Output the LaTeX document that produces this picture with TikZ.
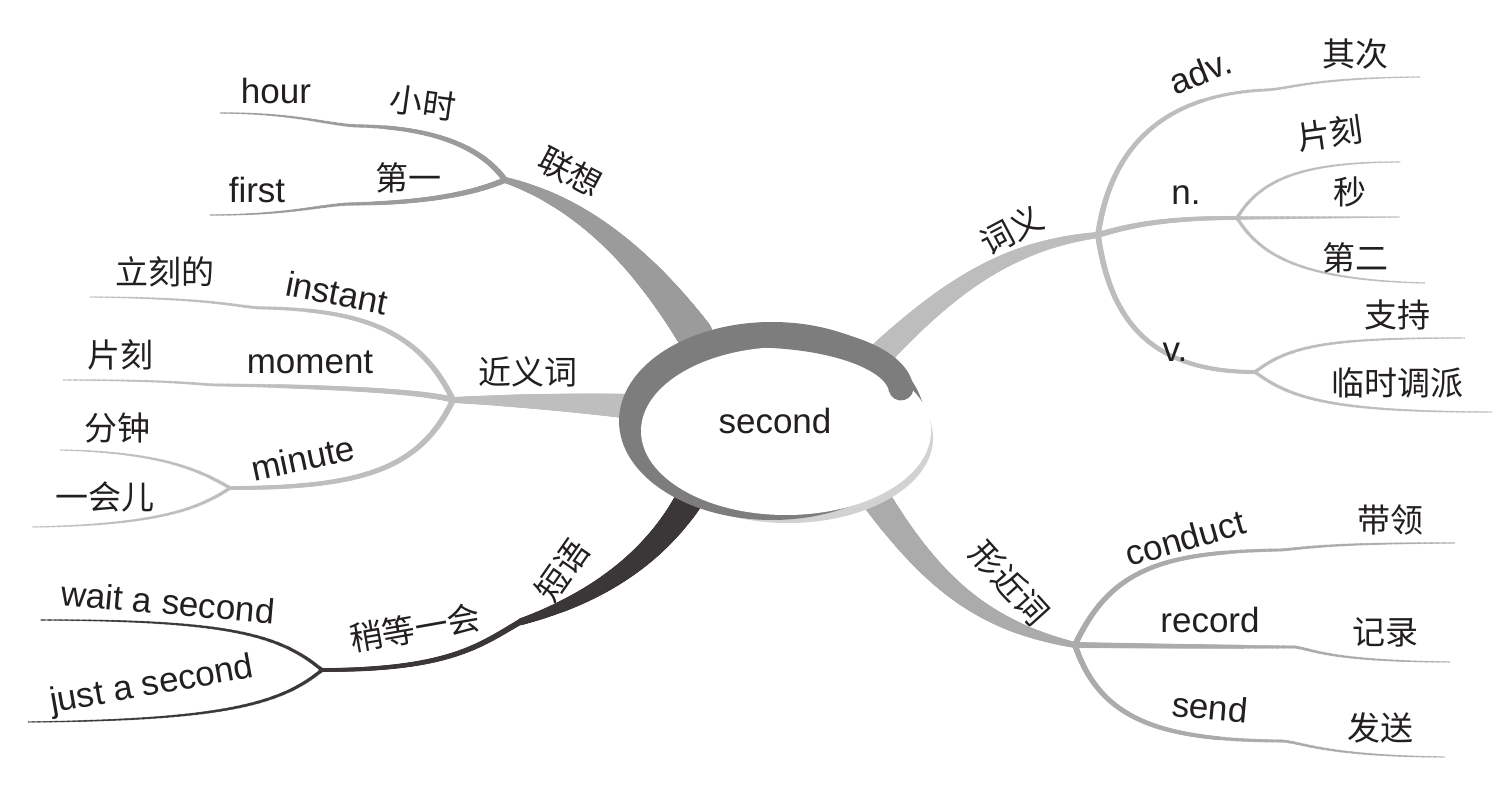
\documentclass[tikz,border=0pt]{standalone}
\usepackage{fontspec}
\setmainfont{Liberation Sans}
\newfontfamily\cjk{Noto Sans CJK SC}
\usetikzlibrary{decorations.markings}

\definecolor{ink}{HTML}{231F20}
\definecolor{ringgray}{HTML}{7D7D7D}
\definecolor{assocgray}{HTML}{9B9B9B}
\definecolor{syngray}{HTML}{BEBEBE}
\definecolor{phrasegray}{HTML}{3B3738}
\definecolor{meangray}{HTML}{BDBDBD}
\definecolor{lookgray}{HTML}{ABABAB}

\tikzset{
  taper/.style n args={3}{postaction={decorate,decoration={markings,
    mark=between positions 0 and 1 step 1.2pt with {%
      \pgfmathsetmacro{\tw}{#2+(#3-#2)*\pgfkeysvalueof{/pgf/decoration/mark info/distance from start}/\pgfdecoratedpathlength}%
      \fill[#1] (0,0) circle[radius=\tw/2];}}}},
  en/.style={font=\fontsize{35}{40}\selectfont,text=ink,inner sep=0pt},
  zh/.style={font=\cjk\fontsize{33}{40}\selectfont,text=ink,inner sep=0pt},
}

\begin{document}
\begin{tikzpicture}[x=1pt,y=-1pt]
	\useasboundingbox (0,0) rectangle (1492,791);

	% Roots under the ellipse
	\coordinate (r-lx) at (695,335);
	\coordinate (r-jy) at (640,407);
	\coordinate (r-dy) at (700,480);
	\coordinate (r-cy) at (875,360);
	\coordinate (r-xj) at (870,490);

	% Junctions
	\coordinate (lx) at (505,180);
	\coordinate (jy) at (453,400);
	\coordinate (jy-min) at (230,488);
	\coordinate (dy) at (520,622);
	\coordinate (dy-sd) at (322,670);
	\coordinate (cy) at (1098,235);
	\coordinate (cy-n) at (1237,218);
	\coordinate (cy-v) at (1255,372);
	\coordinate (xj) at (1075,645);

	% Free ends
	\coordinate (e-hour) at (220,113);
	\coordinate (e-first) at (210,215);
	\coordinate (e-instant) at (90,297);
	\coordinate (e-moment) at (63,380);
	\coordinate (e-fz) at (60,450);
	\coordinate (e-yhr) at (32,527);
	\coordinate (e-wait) at (40,620);
	\coordinate (e-just) at (28,722);
	\coordinate (e-adv) at (1420,77);
	\coordinate (e-pk) at (1400,162);
	\coordinate (e-miao) at (1400,217);
	\coordinate (e-de) at (1425,283);
	\coordinate (e-zc) at (1465,338);
	\coordinate (e-lsdp) at (1492,412);
	\coordinate (e-conduct) at (1455,543);
	\coordinate (e-record) at (1450,662);
	\coordinate (e-send) at (1445,757);

	% Lianxiang
	\path[taper={assocgray}{36}{6}] (r-lx) .. controls (650,270) and (590,205) .. (lx);
	\path[taper={assocgray}{6}{1.5}] (lx) .. controls (480,145) and (430,128) .. (362,126) .. controls (330,126) and (300,113) .. (e-hour);
	\path[taper={assocgray}{6}{1.5}] (lx) .. controls (470,195) and (420,203) .. (350,204) .. controls (320,205) and (290,215) .. (e-first);

	% Jinyici
	\path[taper={syngray}{26}{6}] (r-jy) .. controls (570,402) and (500,400) .. (jy);
	\path[taper={syngray}{6}{1.5}] (jy) .. controls (420,330) and (360,310) .. (265,308) .. controls (240,308) and (220,298) .. (e-instant);
	\path[taper={syngray}{6}{1.5}] (jy) .. controls (420,390) and (300,386) .. (220,385) .. controls (200,385) and (180,380) .. (e-moment);
	\path[taper={syngray}{6}{4}] (jy) .. controls (420,470) and (360,488) .. (jy-min);
	\path[taper={syngray}{4}{1.5}] (jy-min) .. controls (200,470) and (160,452) .. (e-fz);
	\path[taper={syngray}{4}{1.5}] (jy-min) .. controls (200,508) and (160,525) .. (e-yhr);

	% Duanyu
	\path[taper={phrasegray}{30}{7}] (r-dy) .. controls (660,560) and (590,600) .. (dy);
	\path[taper={phrasegray}{6}{4}] (dy) .. controls (480,645) and (450,670) .. (dy-sd);
	\path[taper={phrasegray}{4}{1.5}] (dy-sd) .. controls (280,635) and (230,620) .. (e-wait);
	\path[taper={phrasegray}{4}{1.5}] (dy-sd) .. controls (280,705) and (220,720) .. (e-just);

	% Ciyi
	\path[taper={meangray}{26}{6}] (r-cy) .. controls (950,285) and (1010,245) .. (cy);
	\path[taper={meangray}{6}{1.5}] (cy) .. controls (1110,150) and (1160,95) .. (1265,90) .. controls (1290,89) and (1310,78) .. (e-adv);
	\path[taper={meangray}{6}{4}] (cy) .. controls (1140,222) and (1180,218) .. (cy-n);
	\path[taper={meangray}{4}{1.5}] (cy-n) .. controls (1260,180) and (1300,162) .. (e-pk);
	\path[taper={meangray}{4}{1.5}] (cy-n) -- (e-miao);
	\path[taper={meangray}{4}{1.5}] (cy-n) .. controls (1260,255) and (1300,280) .. (e-de);
	\path[taper={meangray}{6}{4}] (cy) .. controls (1110,320) and (1150,372) .. (cy-v);
	\path[taper={meangray}{4}{1.5}] (cy-v) .. controls (1290,345) and (1330,338) .. (e-zc);
	\path[taper={meangray}{4}{1.5}] (cy-v) .. controls (1290,398) and (1330,412) .. (e-lsdp);

	% Xingjinci
	\path[taper={lookgray}{30}{6}] (r-xj) .. controls (930,580) and (980,625) .. (xj);
	\path[taper={lookgray}{6}{1.5}] (xj) .. controls (1110,570) and (1160,552) .. (1280,550) .. controls (1300,549) and (1320,543) .. (e-conduct);
	\path[taper={lookgray}{6}{1.5}] (xj) .. controls (1150,646) and (1250,647) .. (1295,647) .. controls (1315,650) and (1330,661) .. (e-record);
	\path[taper={lookgray}{6}{1.5}] (xj) .. controls (1100,720) and (1160,740) .. (1280,741) .. controls (1300,741) and (1320,756) .. (e-send);

	% Centre
	\fill[gray!35] (788,438) ellipse[x radius=145,y radius=85];
	\fill[ringgray] (772,421) ellipse[x radius=153,y radius=99];
	\fill[white] (786,431) ellipse[x radius=145,y radius=84];
	\draw[ringgray,line width=25,line cap=round] (760,335) .. controls (835,337) and (895,358) .. (901,388);
	\node[en] (second) at (775,421) {second};

	% Labels
	\node[zh,rotate=-28] (t-lx) at (570,172) {联想};
	\node[zh,rotate=-8] (t-xs) at (423,103) {小时};
	\node[en] (t-hour) at (276,91) {hour};
	\node[zh] (t-dy1) at (408,178) {第一};
	\node[en] (t-first) at (257,190) {first};

	\node[zh] (t-jy) at (528,372) {近义词};
	\node[en,rotate=-11] (t-instant) at (337,293) {instant};
	\node[zh] (t-lkd) at (165,272) {立刻的};
	\node[en] (t-moment) at (310,362) {moment};
	\node[zh] (t-pk1) at (120,355) {片刻};
	\node[en,rotate=12] (t-minute) at (303,458) {minute};
	\node[zh] (t-fz) at (117,428) {分钟};
	\node[zh] (t-yhr) at (105,497) {一会儿};

	\node[zh,rotate=55] (t-dy) at (562,570) {短语};
	\node[zh,rotate=10] (t-sd) at (415,628) {稍等一会};
	\node[en,rotate=-5] (t-wait) at (168,602) {wait a second};
	\node[en,rotate=10] (t-just) at (152,686) {just a second};

	\node[zh,rotate=28] (t-cy) at (1012,230) {词义};
	\node[en,rotate=22] (t-adv) at (1200,72) {adv.};
	\node[zh] (t-qc) at (1355,54) {其次};
	\node[en] (t-n) at (1186,195) {n.};
	\node[zh,rotate=8] (t-pk2) at (1330,133) {片刻};
	\node[zh] (t-miao) at (1350,192) {秒};
	\node[zh] (t-de) at (1355,258) {第二};
	\node[en] (t-v) at (1175,352) {v.};
	\node[zh] (t-zc) at (1397,315) {支持};
	\node[zh] (t-lsdp) at (1397,383) {临时调派};

	\node[zh,rotate=-48] (t-xj) at (1010,583) {形近词};
	\node[en,rotate=16] (t-conduct) at (1185,538) {conduct};
	\node[zh] (t-dl) at (1390,520) {带领};
	\node[en] (t-record) at (1210,620) {record};
	\node[zh] (t-jl) at (1385,632) {记录};
	\node[en,rotate=-5] (t-send) at (1210,707) {send};
	\node[zh] (t-fs) at (1380,728) {发送};
\end{tikzpicture}
\end{document}
